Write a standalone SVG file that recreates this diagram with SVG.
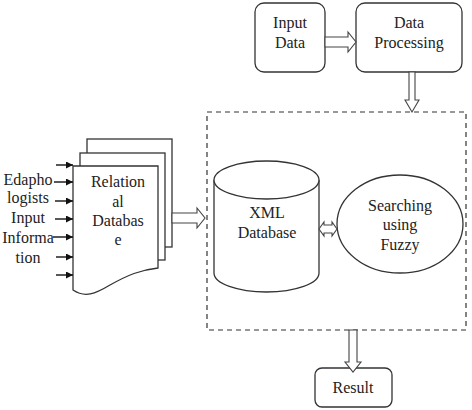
<svg xmlns="http://www.w3.org/2000/svg" width="472" height="410" viewBox="0 0 472 410">
<defs>
<style>
.b{fill:#fff;stroke:#333;stroke-width:1.3}
.t{font-size:16px;fill:#222;text-anchor:middle}
.ha{fill:#fff;stroke:#444;stroke-width:1.1}
.sa{stroke:#111;stroke-width:1.4;fill:none}
</style>
<marker id="ah" viewBox="0 0 10 10" refX="10" refY="5" markerWidth="7" markerHeight="7" markerUnits="userSpaceOnUse" orient="auto">
<path d="M0,0 L10,5 L0,10 Z" fill="#111"/>
</marker>
</defs>
<g font-family="Liberation Serif, DejaVu Serif, serif">
<g id="dashed-box"><rect x="207" y="112" width="259" height="218" fill="none" stroke="#333" stroke-width="1.2" stroke-dasharray="5,4"/></g>
<g id="input-data"><rect class="b" x="255" y="3" width="70" height="69" rx="9"/><text class="t" x="290" y="28">Input</text><text class="t" x="290" y="48">Data</text></g>
<g id="data-processing"><rect class="b" x="356" y="3" width="106" height="69" rx="9"/><text class="t" x="409" y="28">Data</text><text class="t" x="409" y="48">Processing</text></g>
<g id="relational-db">
<rect class="b" x="87" y="139" width="85" height="108"/>
<rect class="b" x="80" y="153" width="85" height="107"/>
<path class="b" d="M73,166 H158 V268 C140,270 128,275 110,285 C95,294 85,298 73,290 Z"/>
<text class="t" x="118" y="187">Relation</text><text class="t" x="118" y="207">al</text><text class="t" x="118" y="226">Databas</text><text class="t" x="118" y="245">e</text>
</g>
<g id="inputs-label"><text class="t" x="28" y="185">Edapho</text><text class="t" x="28" y="203">logists</text><text class="t" x="28" y="223">Input</text><text class="t" x="28" y="243">Informa</text><text class="t" x="28" y="263">tion</text></g>
<g id="xml-db"><path class="b" d="M214,180 V273 A52.5,19 0 0 0 319,273 V180"/><ellipse class="b" cx="266.5" cy="180" rx="52.5" ry="19"/><text class="t" x="267" y="218">XML</text><text class="t" x="267" y="238">Database</text></g>
<g id="searching"><ellipse class="b" cx="400" cy="224" rx="63" ry="49"/><text class="t" x="400" y="211">Searching</text><text class="t" x="400" y="230">using</text><text class="t" x="400" y="250">Fuzzy</text></g>
<g id="result"><rect class="b" x="315" y="368" width="77" height="39" rx="7"/><text class="t" x="353" y="393">Result</text></g>
<g id="connectors">
<polygon class="ha" points="325,37 348,37 348,32 356,42 348,52 348,47 325,47"/>
<polygon class="ha" points="409,72 415,72 415,100 419,100 412,112 405,100 409,100"/>
<polygon class="ha" points="172,213 197,213 197,208 205,218 197,228 197,223 172,223"/>
<polygon class="ha" points="319,229 324,222 324,225 332,225 332,222 337,229 332,236 332,233 324,233 324,236"/>
<polygon class="ha" points="349,330 357,330 357,362 361,362 353,372 345,362 349,362"/>
<line class="sa" x1="56" y1="165" x2="73" y2="165" marker-end="url(#ah)"/>
<line class="sa" x1="54" y1="182" x2="73" y2="182" marker-end="url(#ah)"/>
<line class="sa" x1="55" y1="201" x2="73" y2="201" marker-end="url(#ah)"/>
<line class="sa" x1="55" y1="219" x2="73" y2="219" marker-end="url(#ah)"/>
<line class="sa" x1="53" y1="237" x2="73" y2="237" marker-end="url(#ah)"/>
<line class="sa" x1="56" y1="257" x2="73" y2="257" marker-end="url(#ah)"/>
<line class="sa" x1="56" y1="275" x2="73" y2="275" marker-end="url(#ah)"/>
</g>
</g>
</svg>
